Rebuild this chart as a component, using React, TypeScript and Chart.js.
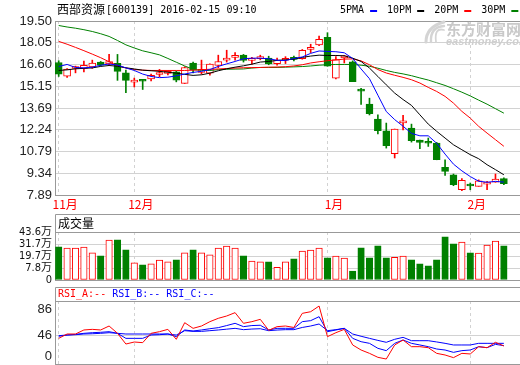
import React, { useEffect, useRef } from "react";
import { Chart, registerables } from "chart.js";

Chart.register(...registerables);

// ---------------- data ----------------
const stockName = "西部资源";
const stockInfo = "[600139] 2016-02-15 09:10";
const monthLabels = ["11月", "12月", "1月", "2月"];
const monthStartIndex = [0, 9, 32, 49];

const opens = [
  16.73, 15.82, 16.33, 16.34, 16.44, 16.76, 16.64, 16.67, 16.04, 15.42,
  15.52, 15.64, 15.93, 16.01, 16.11, 15.34, 16.69, 16.07, 16.02, 16.54,
  16.89, 17.07, 17.22, 16.87, 16.99, 17.02, 16.66, 16.88, 17.07, 16.99,
  17.6, 17.91, 18.41, 15.68, 17.03, 16.78, 14.87, 13.96, 12.96, 12.18,
  10.64, 12.7, 12.36, 11.56, 11.38, 11.36, 9.74, 9.24, 8.24, 8.53,
  8.47, 8.62, 8.74, 8.98,
];
const closes = [
  15.96, 16.29, 16.38, 16.54, 16.69, 16.56, 16.8, 16.14, 15.54, 15.56,
  15.48, 15.87, 16.04, 16.05, 15.56, 16.4, 16.22, 16.27, 16.62, 16.8,
  17.0, 17.18, 16.87, 17.0, 17.13, 16.63, 16.9, 16.94, 16.94, 17.55,
  17.74, 18.28, 16.48, 16.92, 17.18, 15.46, 14.82, 13.32, 12.18, 11.18,
  12.29, 12.76, 11.51, 11.4, 11.34, 10.24, 9.47, 8.58, 8.87, 8.49,
  8.84, 8.73, 8.96, 8.64,
];
const highs = [
  16.85, 16.33, 16.49, 16.82, 16.89, 16.8, 17.27, 17.27, 16.22, 15.69,
  15.56, 15.95, 16.27, 16.2, 16.16, 16.45, 16.76, 16.89, 16.65, 17.22,
  17.55, 17.4, 17.27, 17.07, 17.22, 17.15, 17.02, 17.12, 17.16, 17.6,
  17.95, 18.5, 18.72, 17.12, 17.2, 16.84, 15.01, 14.35, 13.24, 12.69,
  12.29, 13.2, 12.62, 11.56, 11.69, 11.4, 10.24, 9.29, 8.98, 8.69,
  8.9, 8.8, 9.29, 9.04,
];
const lows = [
  15.8, 15.74, 16.04, 16.11, 16.34, 16.5, 16.56, 15.54, 14.71, 15.1,
  14.93, 15.5, 15.78, 15.9, 15.44, 15.33, 16.04, 15.96, 15.89, 16.38,
  16.76, 16.89, 16.76, 16.62, 16.91, 16.58, 16.55, 16.66, 16.84, 16.95,
  17.39, 17.85, 16.48, 15.64, 16.7, 15.46, 13.93, 13.23, 11.96, 11.02,
  10.36, 12.24, 11.42, 10.98, 11.13, 10.24, 9.2, 8.51, 8.18, 8.24,
  8.47, 8.24, 8.74, 8.58,
];

const maNames = ["5PMA", "10PM", "20PM", "30PM"];
const ma5 = [
  16.46, 16.6, 16.4, 16.37, 16.42, 16.55, 16.63, 16.56, 16.37, 16.2,
  15.96, 15.8, 15.72, 15.75, 15.84, 15.96, 16.07, 16.14, 16.26, 16.47,
  16.64, 16.8, 16.98, 17.02, 17.02, 16.98, 16.88, 16.86, 17.0, 17.1,
  17.34, 17.5, 17.47, 17.45, 17.38, 17.0, 16.3, 15.65, 14.55, 13.46,
  12.92, 12.48, 12.0, 11.84, 11.84, 11.34, 10.62, 9.95, 9.5, 9.12,
  8.81, 8.74, 8.8, 8.75,
];
const ma10 = [
  16.2, 16.24, 16.31, 16.34, 16.37, 16.47, 16.53, 16.48, 16.38, 16.3,
  16.22, 16.18, 16.14, 16.08, 16.02, 15.94, 15.87, 15.91, 16.02, 16.18,
  16.31, 16.42, 16.51, 16.62, 16.76, 16.8, 16.87, 16.91, 16.95, 17.07,
  17.16, 17.22, 17.2, 17.2, 17.18, 17.02, 16.8, 16.36, 15.8, 15.24,
  14.69, 14.26, 13.87, 13.24, 12.62, 12.14, 11.69, 11.24, 10.91, 10.58,
  10.31, 9.91, 9.58, 9.24,
];
const ma20 = [
  18.14, 17.95, 17.74, 17.52, 17.29, 17.05, 16.78, 16.52, 16.36, 16.26,
  16.22, 16.2, 16.2, 16.2, 16.2, 16.2, 16.22, 16.25, 16.28, 16.3,
  16.33, 16.36, 16.38, 16.39, 16.4, 16.42, 16.43, 16.45, 16.5, 16.58,
  16.7, 16.78, 16.85, 16.9, 16.96, 16.97, 16.84, 16.58, 16.26, 16.03,
  15.88, 15.74, 15.58, 15.36, 15.07, 14.8, 14.47, 14.02, 13.47, 13.02,
  12.47, 12.02, 11.58, 11.14,
];
const ma30 = [
  19.2, 19.1, 19.02, 18.92, 18.8, 18.65, 18.47, 18.2, 17.91, 17.7,
  17.51, 17.38, 17.24, 17.0, 16.75, 16.5, 16.28, 16.2, 16.2, 16.25,
  16.28, 16.29, 16.3, 16.36, 16.4, 16.4, 16.4, 16.42, 16.44, 16.46,
  16.5, 16.55, 16.58, 16.6, 16.6, 16.6, 16.55, 16.48, 16.35, 16.2,
  16.07, 15.97, 15.85, 15.7, 15.56, 15.38, 15.2, 14.98, 14.75, 14.5,
  14.22, 13.95, 13.65, 13.35,
];

// volume, in 万 (10k shares)
const volumes = [
  30.2, 29.0, 29.0, 29.9, 24.7, 21.9, 36.3, 36.6, 27.4, 15.5,
  13.7, 14.6, 18.0, 16.5, 18.3, 24.7, 27.4, 24.7, 22.9, 29.0,
  30.8, 29.0, 21.9, 17.1, 16.5, 16.5, 11.6, 16.5, 19.2, 26.2,
  27.1, 29.0, 20.1, 21.7, 19.8, 8.2, 29.2, 20.1, 31.1, 20.1,
  20.7, 21.7, 18.3, 14.6, 12.8, 18.3, 39.3, 32.9, 34.5, 24.7,
  24.4, 31.7, 35.4, 31.1,
];

const rsiA = [
  40.7, 47.6, 47.6, 54.0, 55.0, 54.0, 60.3, 48.7, 31.7, 34.9,
  33.9, 48.7, 51.3, 55.0, 39.2, 65.6, 56.6, 60.3, 67.2, 72.5,
  76.2, 81.5, 64.6, 67.2, 70.9, 53.5, 59.3, 60.3, 58.0, 80.4,
  83.0, 92.0, 43.4, 49.7, 55.0, 30.2, 22.2, 16.9, 10.6, 7.9,
  30.2, 38.1, 27.5, 27.5, 25.9, 16.9, 14.3, 10.1, 16.9, 15.9,
  27.5, 25.9, 34.4, 28.6,
];
const rsiB = [
  44.0, 46.0, 47.0, 48.7, 49.7, 50.3, 51.3, 48.7, 40.7, 40.7,
  40.7, 46.0, 46.5, 47.6, 43.4, 54.0, 52.4, 54.0, 56.0, 57.7,
  61.0, 64.6, 59.3, 61.0, 61.5, 54.0, 56.6, 56.6, 56.6, 67.2,
  68.8, 75.1, 51.3, 54.0, 56.6, 40.7, 35.4, 32.8, 24.9, 21.2,
  32.8, 38.1, 32.8, 30.2, 27.5, 23.8, 22.2, 18.5, 21.2, 22.2,
  27.5, 25.9, 31.2, 29.1,
];
const rsiC = [
  45.0, 46.0, 46.5, 47.6, 48.0, 48.7, 49.7, 48.7, 47.6, 47.6,
  47.6, 47.6, 47.6, 47.6, 46.0, 52.9, 51.8, 51.8, 52.9, 54.0,
  55.3, 56.6, 54.5, 55.5, 56.0, 52.9, 53.9, 54.5, 54.5, 58.0,
  60.3, 63.5, 52.9, 54.5, 56.6, 47.6, 44.0, 40.7, 37.5, 34.4,
  39.2, 42.3, 37.0, 37.0, 37.0, 35.0, 32.8, 30.2, 30.2, 30.2,
  32.8, 32.8, 32.8, 32.8,
];

const priceTickLabels = ["7.89", "9.34", "10.79", "12.24", "13.69", "15.15", "16.60", "18.05", "19.50"];
const volumeTickLabels = ["0", "7.8万", "19.7万", "31.7万", "43.6万"];
const rsiTickLabels = ["0", "46", "86"];
const rsiHeaders = ["RSI_A:--", "RSI_B:--", "RSI_C:--"];
const volumeHeader = "成交量";
const watermarkCn = "东方财富网";
const watermarkEn = "eastmoney.com";

// ---------------- styles ----------------
const RED = "#ff0000";
const GREEN = "#008000";
const BLUE = "#0000ff";
const BLACK = "#000000";
const FRAME = "#999999";
const GRID = "#d2d2d2";
const maColors = [BLUE, BLACK, RED, GREEN];
const rsiColors = [RED, BLUE, BLUE];
const SANS = "'Liberation Sans', Arial, 'Noto Sans CJK SC', sans-serif";
const CJK = "'Noto Sans CJK SC', 'Liberation Sans', sans-serif";
const MONO = "'DejaVu Sans Mono', 'Liberation Mono', monospace";
const NARROW = "'Liberation Sans Narrow', 'DejaVu Sans Condensed', 'Noto Sans CJK SC', sans-serif";

const X_MIN = -0.44;
const X_MAX = 54.92;
const AXIS_W = 55;

const idx = opens.map((_, i) => i);
const isUp = (i: number) => closes[i] >= opens[i];
const upFill = idx.map((i) => (isUp(i) ? "#ffffff" : GREEN));
const upLine = idx.map((i) => (isUp(i) ? RED : GREEN));

function monthAxis(showLabels: boolean) {
  return {
    type: "linear",
    min: X_MIN,
    max: X_MAX,
    offset: false,
    afterBuildTicks: (s: any) => {
      s.ticks = monthStartIndex.map((v) => ({ value: v }));
    },
    afterFit: (s: any) => {
      s.height = showLabels ? 18 : 0;
    },
    grid: { color: GRID, lineWidth: 1, drawTicks: false, offset: false },
    border: { display: true, color: FRAME, width: 1, dash: [3, 3] },
    ticks: {
      display: showLabels,
      autoSkip: false,
      maxRotation: 0,
      minRotation: 0,
      color: RED,
      font: { family: CJK, size: 12 },
      padding: 2,
      labelOffset: 6.5,
      callback: (_v: any, i: number) => monthLabels[i],
    },
  };
}

const baseOptions = (padTop: number, padBottom: number) => ({
  responsive: false,
  animation: false,
  events: [],
  layout: { padding: { top: padTop, bottom: padBottom, left: 0, right: 0 } },
  plugins: { legend: { display: false }, tooltip: { enabled: false }, title: { display: false } },
});

const mainPlugin = {
  id: "mainDecor",
  beforeDatasetsDraw(chart: any) {
    const { ctx } = chart;
    ctx.save();
    // watermark
    ctx.strokeStyle = "#d4d4d4";
    ctx.lineCap = "round";
    for (let k = 0; k < 3; k++) {
      ctx.lineWidth = 3 - k * 0.6;
      ctx.beginPath();
      ctx.moveTo(426 + k * 5, 42);
      ctx.quadraticCurveTo(426 + k * 4, 27, 444, 22 + k * 4);
      ctx.stroke();
    }
    ctx.fillStyle = "#c9c9c9";
    ctx.textBaseline = "middle";
    ctx.textAlign = "left";
    ctx.font = `bold 15px ${CJK}`;
    ctx.fillText(watermarkCn, 446, 29.5);
    ctx.font = `italic bold 11px ${SANS}`;
    ctx.fillStyle = "#cfcfcf";
    ctx.fillText(watermarkEn, 446, 41.5);
    ctx.restore();
  },
  afterDraw(chart: any) {
    const { ctx } = chart;
    ctx.save();
    ctx.textBaseline = "middle";
    ctx.textAlign = "left";
    ctx.fillStyle = BLACK;
    ctx.font = `12px ${CJK}`;
    ctx.fillText(stockName, 57, 9.5);
    let x = 57 + ctx.measureText(stockName).width + 1;
    ctx.font = `10px ${MONO}`;
    ctx.fillText(stockInfo, x, 10);
    // legend
    x = 340;
    maNames.forEach((n, k) => {
      ctx.fillStyle = BLACK;
      ctx.fillText(n, x, 10.5);
      x += ctx.measureText(n).width + 6;
      ctx.fillStyle = maColors[k];
      ctx.fillRect(x, 10, 7, 2);
      x += 17;
    });
    ctx.restore();
  },
};

function panelPlugin(id: string, headerH: number, texts: string[], colors: string[], font: string) {
  return {
    id,
    afterDraw(chart: any) {
      const { ctx, chartArea } = chart;
      const left = Math.round(chartArea.left) + 0.5;
      const top = Math.round(chartArea.top) + 0.5;
      const hTop = Math.round(chartArea.top - headerH) + 0.5;
      ctx.save();
      ctx.strokeStyle = FRAME;
      ctx.lineWidth = 1;
      ctx.beginPath();
      ctx.moveTo(left, hTop);
      ctx.lineTo(chartArea.right, hTop);
      ctx.moveTo(left, top);
      ctx.lineTo(chartArea.right, top);
      ctx.moveTo(left, hTop);
      ctx.lineTo(left, top);
      ctx.stroke();
      ctx.font = font;
      ctx.textBaseline = "middle";
      ctx.textAlign = "left";
      let x = chartArea.left + 3;
      texts.forEach((t, k) => {
        ctx.fillStyle = colors[k];
        ctx.fillText(t, x, chartArea.top - headerH / 2);
        x += ctx.measureText(t).width + 6;
      });
      ctx.restore();
    },
  };
}

function mainConfig(): any {
  const maSeries = [ma5, ma10, ma20, ma30];
  const pMin = parseFloat(priceTickLabels[0]);
  const pMax = parseFloat(priceTickLabels[priceTickLabels.length - 1]);
  return {
    type: "bar",
    data: {
      datasets: [
        ...maSeries.map((s, k) => ({
          type: "line",
          label: maNames[k],
          data: s.map((v, i) => ({ x: i, y: v })),
          borderColor: maColors[k],
          borderWidth: 1,
          pointRadius: 0,
          tension: 0,
          fill: false,
          order: 0,
        })),
        {
          type: "bar",
          label: "body",
          data: idx.map((i) => ({ x: i, y: [opens[i], closes[i]] })),
          backgroundColor: upFill,
          borderColor: upLine,
          borderWidth: 1,
          borderSkipped: false,
          barThickness: 7,
          minBarLength: 2,
          grouped: false,
          order: 1,
        },
        {
          type: "bar",
          label: "wick",
          data: idx.map((i) => ({ x: i, y: [lows[i], highs[i]] })),
          backgroundColor: upLine,
          borderWidth: 0,
          barThickness: 1,
          grouped: false,
          order: 2,
        },
      ],
    },
    options: {
      ...baseOptions(21, 152),
      scales: {
        x: monthAxis(true),
        y: {
          type: "linear",
          min: pMin,
          max: pMax,
          beginAtZero: false,
          afterBuildTicks: (s: any) => {
            s.ticks = priceTickLabels.map((t) => ({ value: parseFloat(t) }));
          },
          afterFit: (s: any) => {
            s.width = AXIS_W;
          },
          grid: {
            color: (c: any) => (c.index === priceTickLabels.length - 1 ? FRAME : GRID),
            drawTicks: false,
          },
          border: { display: true, color: FRAME },
          ticks: {
            autoSkip: false,
            color: "#222222",
            font: { family: SANS, size: 13 },
            padding: 3,
            callback: (_v: any, i: number) => priceTickLabels[i],
          },
        },
      },
    },
    plugins: [mainPlugin],
  };
}

function volConfig(): any {
  const vMax = parseFloat(volumeTickLabels[volumeTickLabels.length - 1]);
  const n = volumeTickLabels.length - 1;
  return {
    type: "bar",
    data: {
      datasets: [
        {
          label: "volume",
          data: idx.map((i) => ({ x: i, y: volumes[i] })),
          backgroundColor: upFill,
          borderColor: upLine,
          borderWidth: 1,
          borderSkipped: false,
          barThickness: 6.5,
          grouped: false,
        },
      ],
    },
    options: {
      ...baseOptions(232, 85),
      scales: {
        x: monthAxis(false),
        y: {
          type: "linear",
          min: 0,
          max: vMax,
          beginAtZero: false,
          afterBuildTicks: (s: any) => {
            s.ticks = volumeTickLabels.map((_t, k) => ({ value: (vMax * k) / n }));
          },
          afterFit: (s: any) => {
            s.width = AXIS_W;
          },
          grid: { color: (c: any) => (c.index === n ? FRAME : GRID), drawTicks: false },
          border: { display: true, color: FRAME },
          ticks: {
            autoSkip: false,
            color: "#111111",
            font: { family: NARROW, size: 11, lineHeight: 1 },
            padding: 3,
            callback: (_v: any, i: number) => volumeTickLabels[i],
          },
        },
      },
    },
    plugins: [panelPlugin("volPanel", 18, [volumeHeader], [BLACK], `12px ${CJK}`)],
  };
}

function rsiConfig(): any {
  const series = [rsiA, rsiB, rsiC];
  const labelFloor = 12.7; // keep the bottom label inside the panel
  return {
    type: "line",
    data: {
      datasets: series.map((s, k) => ({
        label: rsiHeaders[k],
        data: s.map((v, i) => ({ x: i, y: v })),
        borderColor: rsiColors[k],
        borderWidth: 1,
        pointRadius: 0,
        tension: 0,
        fill: false,
      })),
    },
    options: {
      ...baseOptions(301, 21),
      scales: {
        x: monthAxis(false),
        y: {
          type: "linear",
          min: 0,
          max: 100,
          afterBuildTicks: (s: any) => {
            s.ticks = rsiTickLabels.map((t) => ({ value: Math.max(parseFloat(t), labelFloor) }));
          },
          afterFit: (s: any) => {
            s.width = AXIS_W;
          },
          grid: {
            color: (c: any) => (rsiTickLabels[c.index] === "46" ? GRID : "rgba(0,0,0,0)"),
            drawTicks: false,
          },
          border: { display: true, color: FRAME },
          ticks: {
            autoSkip: false,
            color: "#222222",
            font: { family: SANS, size: 13 },
            padding: 3,
            callback: (_v: any, i: number) => rsiTickLabels[i],
          },
        },
      },
    },
    plugins: [panelPlugin("rsiPanel", 14, rsiHeaders, rsiColors, `10px ${MONO}`)],
  };
}

export default function App() {
  const mainRef = useRef<HTMLCanvasElement>(null);
  const volRef = useRef<HTMLCanvasElement>(null);
  const rsiRef = useRef<HTMLCanvasElement>(null);

  useEffect(() => {
    const charts = [
      new Chart(mainRef.current as HTMLCanvasElement, mainConfig()),
      new Chart(volRef.current as HTMLCanvasElement, volConfig()),
      new Chart(rsiRef.current as HTMLCanvasElement, rsiConfig()),
    ];
    return () => charts.forEach((c) => c.destroy());
  }, []);

  const cs: any = { position: "absolute", left: 0, top: 0 };
  return (
    <div
      style={{
        position: "absolute",
        left: 0,
        top: 0,
        width: 520,
        height: 365,
        overflow: "hidden",
        background: "#ffffff",
      }}
    >
      <canvas ref={mainRef} width={520} height={365} style={cs} />
      <canvas ref={volRef} width={520} height={365} style={cs} />
      <canvas ref={rsiRef} width={520} height={385} style={cs} />
    </div>
  );
}
